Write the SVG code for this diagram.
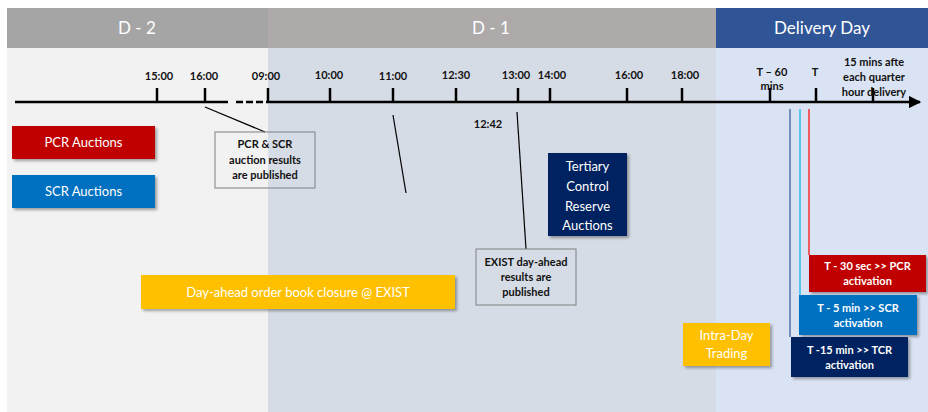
<svg xmlns="http://www.w3.org/2000/svg" width="928" height="412" viewBox="0 0 928 412">
<defs>
<style>
.hd{font-family:Lato,"Liberation Sans",sans-serif;font-size:17px;fill:#ffffff;text-anchor:middle}
.tk{font-family:Lato,"Liberation Sans",sans-serif;font-size:11px;font-weight:bold;fill:#111;text-anchor:middle}
.bx{font-family:Lato,"Liberation Sans",sans-serif;font-size:13px;fill:#ffffff;text-anchor:middle}
.bw{font-family:Lato,"Liberation Sans",sans-serif;font-size:11px;font-weight:bold;fill:#ffffff;text-anchor:middle}
.nb{font-family:Lato,"Liberation Sans",sans-serif;font-size:11px;font-weight:bold;fill:#111;text-anchor:middle}
.tick{stroke:#000;stroke-width:2.5}
.ln{stroke:#000;stroke-width:1.2;fill:none}
.note{fill:none;stroke:#7f7f7f;stroke-width:1}
</style>
<filter id="sh" x="-10%" y="-10%" width="130%" height="140%">
<feDropShadow dx="2" dy="2" stdDeviation="1.5" flood-color="#000" flood-opacity="0.35"/>
</filter>
<marker id="ar" viewBox="0 0 10 10" refX="9" refY="5" markerWidth="5" markerHeight="5" orient="auto">
<path d="M0,0 L10,5 L0,10 z" fill="#000"/>
</marker>
</defs>
<rect width="928" height="412" fill="#ffffff"/>
<g id="backgrounds">
<rect x="7" y="48" width="261" height="364" fill="#f2f2f2"/>
<rect x="268" y="48" width="448" height="364" fill="#d6dce5"/>
<rect x="716" y="48" width="212" height="364" fill="#dae3f3"/>
<rect x="7" y="8" width="261" height="40" fill="#a5a5a5"/>
<rect x="268" y="8" width="448" height="40" fill="#aeaaaa"/>
<rect x="716" y="8" width="212" height="40" fill="#2f5597"/>
<text class="hd" x="137" y="34">D - 2</text>
<text class="hd" x="491" y="34">D - 1</text>
<text class="hd" x="822" y="34">Delivery Day</text>
</g>
<g id="timeline">
<line x1="15" y1="102" x2="228" y2="102" stroke="#000" stroke-width="2.5"/>
<line x1="236" y1="102" x2="268" y2="102" stroke="#000" stroke-width="2.5" stroke-dasharray="7,3"/>
<line x1="268" y1="102" x2="920" y2="102" stroke="#000" stroke-width="2.5" marker-end="url(#ar)"/>
<line class="tick" x1="157" y1="88" x2="157" y2="102"/>
<line class="tick" x1="205" y1="88" x2="205" y2="102"/>
<line class="tick" x1="268" y1="88" x2="268" y2="102"/>
<line class="tick" x1="330" y1="88" x2="330" y2="102"/>
<line class="tick" x1="393" y1="88" x2="393" y2="102"/>
<line class="tick" x1="456" y1="88" x2="456" y2="102"/>
<line class="tick" x1="518" y1="88" x2="518" y2="102"/>
<line class="tick" x1="550" y1="88" x2="550" y2="102"/>
<line class="tick" x1="627" y1="88" x2="627" y2="102"/>
<line class="tick" x1="682" y1="88" x2="682" y2="102"/>
<line class="tick" x1="770" y1="88" x2="770" y2="102"/>
<line class="tick" x1="816" y1="88" x2="816" y2="102"/>
<line class="tick" x1="873" y1="88" x2="873" y2="102"/>
<text class="tk" x="159" y="80">15:00</text>
<text class="tk" x="204" y="80">16:00</text>
<text class="tk" x="266" y="80">09:00</text>
<text class="tk" x="329" y="79">10:00</text>
<text class="tk" x="393" y="80">11:00</text>
<text class="tk" x="456" y="79">12:30</text>
<text class="tk" x="516" y="79">13:00</text>
<text class="tk" x="552" y="79">14:00</text>
<text class="tk" x="629" y="79">16:00</text>
<text class="tk" x="685" y="79">18:00</text>
<text class="tk" x="772" y="76">T – 60</text>
<text class="tk" x="772" y="90">mins</text>
<text class="tk" x="815" y="76">T</text>
<text class="tk" x="874" y="66">15 mins afte</text>
<text class="tk" x="874" y="81">each quarter</text>
<text class="tk" x="874" y="96">hour delivery</text>
<text class="tk" x="488" y="128">12:42</text>
</g>
<g id="connectors">
<line class="ln" x1="205" y1="107" x2="265" y2="132"/>
<line class="ln" x1="393" y1="115" x2="406" y2="193"/>
<line class="ln" x1="517" y1="112" x2="526" y2="249"/>
<line x1="790" y1="109" x2="790" y2="337" stroke="#2f5597" stroke-width="1.2"/>
<line x1="800" y1="109" x2="800" y2="295" stroke="#00b0f0" stroke-width="1.2"/>
<line x1="809" y1="109" x2="809" y2="255" stroke="#ff0000" stroke-width="1.2"/>
</g>
<g id="pcr-auctions">
<rect x="12" y="126" width="143" height="33" fill="#c00000" filter="url(#sh)"/>
<text class="bx" x="83.5" y="147">PCR Auctions</text>
</g>
<g id="scr-auctions">
<rect x="12" y="175" width="143" height="33" fill="#0070c0" filter="url(#sh)"/>
<text class="bx" x="83.5" y="196">SCR Auctions</text>
</g>
<g id="pcr-scr-published">
<rect class="note" x="215" y="132" width="100" height="56"/>
<text class="nb" x="265" y="148">PCR &amp; SCR</text>
<text class="nb" x="265" y="164">auction results</text>
<text class="nb" x="265" y="179">are published</text>
</g>
<g id="tcr-auctions">
<rect x="548" y="153" width="79" height="83" fill="#002060" filter="url(#sh)"/>
<text class="bx" x="587.5" y="171">Tertiary</text>
<text class="bx" x="587.5" y="191">Control</text>
<text class="bx" x="587.5" y="211">Reserve</text>
<text class="bx" x="587.5" y="230">Auctions</text>
</g>
<g id="exist-published">
<rect class="note" x="476" y="249" width="100" height="56"/>
<text class="nb" x="526" y="266">EXIST day-ahead</text>
<text class="nb" x="526" y="281">results are</text>
<text class="nb" x="526" y="296">published</text>
</g>
<g id="day-ahead-closure">
<rect x="141" y="275" width="314" height="34" fill="#ffc000" filter="url(#sh)"/>
<text class="bx" x="298" y="297">Day-ahead order book closure @ EXIST</text>
</g>
<g id="intra-day">
<rect x="683" y="323" width="87" height="43" fill="#ffc000" filter="url(#sh)"/>
<text class="bx" x="726.5" y="340">Intra-Day</text>
<text class="bx" x="726.5" y="358">Trading</text>
</g>
<g id="pcr-activation">
<rect x="809" y="255" width="117" height="37" fill="#c00000" filter="url(#sh)"/>
<text class="bw" x="867.5" y="270">T - 30 sec &gt;&gt; PCR</text>
<text class="bw" x="867.5" y="285">activation</text>
</g>
<g id="scr-activation">
<rect x="799" y="295" width="118" height="40" fill="#0070c0" filter="url(#sh)"/>
<text class="bw" x="858" y="312">T - 5 min &gt;&gt; SCR</text>
<text class="bw" x="858" y="327">activation</text>
</g>
<g id="tcr-activation">
<rect x="791" y="337" width="117" height="40" fill="#002060" filter="url(#sh)"/>
<text class="bw" x="849.5" y="354">T -15 min &gt;&gt; TCR</text>
<text class="bw" x="849.5" y="369">activation</text>
</g>
</svg>
